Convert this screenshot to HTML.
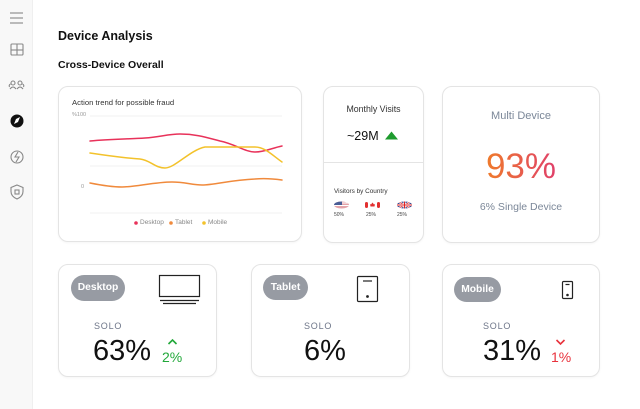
<!DOCTYPE html>
<html><head><meta charset="utf-8"><style>
*{margin:0;padding:0;box-sizing:border-box}
body{width:640px;height:409px;background:#fff;font-family:"Liberation Sans",sans-serif;position:relative;overflow:hidden;color:#111}
.a{position:absolute;white-space:nowrap;line-height:1}
.side{position:absolute;left:0;top:0;width:33px;height:409px;background:#f8f8f8;border-right:1px solid #efefef}
.card{position:absolute;border:1px solid #e4e4e4;border-radius:10px;background:#fff;box-shadow:0 1px 2px rgba(0,0,0,0.04)}
.pill{position:absolute;background:#979ba3;color:#fff;font-weight:bold;border-radius:13px;text-align:center;font-size:10.3px}
.solo{font-size:9px;color:#6e7689;letter-spacing:0.8px}
.big{font-size:29px;color:#111}
</style></head><body>
<div class="side"></div>
<svg class="a" style="left:0;top:0" width="33" height="210" viewBox="0 0 33 210">
 <g stroke="#888" stroke-width="1.1" fill="none">
  <line x1="10" y1="13" x2="23" y2="13"/><line x1="10" y1="18" x2="23" y2="18"/><line x1="10" y1="23" x2="23" y2="23"/>
  <rect x="11" y="44" width="12" height="11" rx="1"/><line x1="17" y1="44" x2="17" y2="55"/><line x1="11" y1="50" x2="23" y2="50"/>
  <circle cx="13" cy="83" r="2"/><circle cx="20" cy="83" r="2"/><path d="M10 89 q3 -4 6 0 M17 89 q3 -4 6 0"/><path d="M9.5 87 q-1 -2 1 -3 M23.5 87 q1 -2 -1 -3"/>
  <circle cx="17" cy="157" r="6"/><path d="M18 152 l-3 5 h4 l-3 5"/>
  <path d="M17 185 l6 2.5 v4 q0 5 -6 7.5 q-6 -2.5 -6 -7.5 v-4 z"/><rect x="15" y="190" width="4" height="4"/>
 </g>
 <circle cx="17" cy="121" r="6.5" fill="#111"/><path d="M14 124 l2 -5 l4 -2 l-2 5 z" fill="#fff"/>
</svg>

<div class="a" style="left:58px;top:29.5px;font-size:12.5px;font-weight:bold;color:#111">Device Analysis</div>
<div class="a" style="left:58px;top:59.5px;font-size:10.5px;font-weight:bold;color:#111">Cross-Device Overall</div>

<!-- chart card -->
<div class="card" style="left:58px;top:86px;width:244px;height:156px"></div>
<div class="a" style="left:72px;top:98.8px;font-size:7.7px;color:#333">Action trend for possible fraud</div>
<div class="a" style="left:72px;top:113.4px;font-size:5.5px;color:#999">%100</div>
<div class="a" style="left:81px;top:185.4px;font-size:5.5px;color:#999">0</div>
<svg class="a" style="left:0;top:0" width="320" height="250" viewBox="0 0 320 250">
 <g stroke="#f1f1f1" stroke-width="1"><line x1="90" y1="116" x2="282" y2="116"/><line x1="90" y1="166" x2="282" y2="166"/><line x1="90" y1="213" x2="282" y2="213"/></g>
 <g fill="none" stroke-width="1.5" stroke-linecap="round">
  <path stroke="#e8325a" d="M90,141 C110,139 130,139 145,138 C160,137 168,134 180,134 C195,134 205,137 220,141 C235,144 245,152 255,152 C265,152 272,148 282,146"/>
  <path stroke="#f3c22b" d="M90,153 C110,156 125,158 140,159 C150,160 155,168 165,168 C175,168 190,150 205,147 L255,147 C265,147 272,155 282,162"/>
  <path stroke="#f08a3c" d="M90,183 C105,186 115,187 122,187 C135,187 155,182 172,182 C185,182 192,185 202,185 C215,185 230,180 255,179 C265,178 275,179 282,180"/>
 </g>
 <circle cx="136" cy="223" r="1.8" fill="#e8325a"/><circle cx="171" cy="223" r="1.8" fill="#f08a3c"/><circle cx="204" cy="223" r="1.8" fill="#f3c22b"/>
</svg>
<div class="a" style="left:140px;top:219.9px;font-size:6.5px;color:#888">Desktop</div>
<div class="a" style="left:175px;top:219.9px;font-size:6.5px;color:#888">Tablet</div>
<div class="a" style="left:208px;top:219.9px;font-size:6.5px;color:#888">Mobile</div>

<!-- monthly visits -->
<div class="card" style="left:323px;top:86px;width:101px;height:157px"></div>
<div class="a" style="left:323px;width:101px;text-align:center;top:104.8px;font-size:8.8px;color:#333">Monthly Visits</div>
<div class="a" style="left:347px;top:130px;font-size:12.5px;color:#111">~29M</div>
<svg class="a" style="left:384px;top:131px" width="15" height="9"><polygon points="1,8.5 7.5,0.5 14,8.5" fill="#1e9b2e"/></svg>
<div class="a" style="left:324px;top:162px;width:99px;height:1px;background:#e4e4e4"></div>
<div class="a" style="left:334px;top:189px;font-size:6.4px;color:#333">Visitors by Country</div>
<svg class="a" style="left:330px;top:199px" width="90" height="12">
 <defs><clipPath id="us"><ellipse cx="11.5" cy="6" rx="7.5" ry="3.5"/></clipPath><clipPath id="uk"><ellipse cx="74.5" cy="6" rx="7.5" ry="3.5"/></clipPath></defs>
 <g clip-path="url(#us)"><rect x="4" y="2" width="15" height="8" fill="#e4a3a8"/><rect x="4" y="3.5" width="15" height="1" fill="#fff"/><rect x="4" y="6" width="15" height="1" fill="#fff"/><rect x="4" y="2" width="8" height="4" fill="#4a5e96"/></g>
 <rect x="35" y="3" width="3" height="6" rx="1.5" fill="#e23030"/><rect x="47" y="3" width="3" height="6" rx="1.5" fill="#e23030"/><path d="M42.5 3.5 l1.5 2 l1 -0.5 l-0.5 2.5 h-4 l-0.5 -2.5 l1 0.5 z" fill="#e23030"/>
 <g clip-path="url(#uk)"><rect x="67" y="2" width="15" height="8" fill="#2d3f8a"/><path d="M67 2 L82 10 M82 2 L67 10" stroke="#fff" stroke-width="2"/><path d="M67 2 L82 10 M82 2 L67 10" stroke="#d22" stroke-width="0.7"/><rect x="67" y="5" width="15" height="2" fill="#fff"/><rect x="73.5" y="2" width="2" height="8" fill="#fff"/><rect x="67" y="5.5" width="15" height="1" fill="#d22"/><rect x="74" y="2" width="1" height="8" fill="#d22"/></g>
</svg>
<div class="a" style="left:334px;top:212.6px;font-size:5px;color:#444">50%</div>
<div class="a" style="left:366px;top:212.6px;font-size:5px;color:#444">25%</div>
<div class="a" style="left:397px;top:212.6px;font-size:5px;color:#444">25%</div>

<!-- multi device -->
<div class="card" style="left:442px;top:86px;width:158px;height:157px"></div>
<div class="a" style="left:442px;width:158px;text-align:center;top:110.7px;font-size:11px;color:#7b8798">Multi Device</div>
<div class="a" style="left:442px;width:158px;text-align:center;top:148.7px;font-size:35px"><span style="background:linear-gradient(90deg,#ef7b2b,#e0406a);-webkit-background-clip:text;background-clip:text;color:transparent">93%</span></div>
<div class="a" style="left:442px;width:158px;text-align:center;top:202px;font-size:10.5px;color:#7b8798">6% Single Device</div>

<!-- desktop -->
<div class="card" style="left:58px;top:264px;width:159px;height:113px"></div>
<div class="pill" style="left:71px;top:275px;width:54px;height:26px;line-height:26px">Desktop</div>
<svg class="a" style="left:157px;top:273px" width="46" height="34" fill="none" stroke="#222" stroke-width="1.2">
 <rect x="2.5" y="2.5" width="40" height="21"/><line x1="3" y1="27.5" x2="42" y2="27.5"/><line x1="6" y1="30.5" x2="39" y2="30.5"/>
</svg>
<div class="a solo" style="left:94px;top:321.7px">SOLO</div>
<div class="a big" style="left:93px;top:336.6px">63%</div>
<svg class="a" style="left:167px;top:338px" width="12" height="8"><polyline points="1.5,6 5.5,2 9.5,6" fill="none" stroke="#22a83a" stroke-width="1.6"/></svg>
<div class="a" style="left:162px;top:350.3px;font-size:14px;color:#22a83a">2%</div>

<!-- tablet -->
<div class="card" style="left:251px;top:264px;width:159px;height:113px"></div>
<div class="pill" style="left:263px;top:275px;width:45px;height:25px;line-height:25px">Tablet</div>
<svg class="a" style="left:355px;top:274px" width="26" height="30" fill="none" stroke="#222" stroke-width="1.2">
 <rect x="2.5" y="2.5" width="20" height="25" rx="1"/><line x1="8" y1="7" x2="17" y2="7"/><circle cx="12.5" cy="22.5" r="0.8" fill="#222"/>
</svg>
<div class="a solo" style="left:304px;top:321.7px">SOLO</div>
<div class="a big" style="left:304px;top:336.6px">6%</div>

<!-- mobile -->
<div class="card" style="left:442px;top:264px;width:158px;height:113px"></div>
<div class="pill" style="left:454px;top:277px;width:47px;height:25px;line-height:25px">Mobile</div>
<svg class="a" style="left:560px;top:279px" width="16" height="22" fill="none" stroke="#222" stroke-width="1.2">
 <rect x="2.5" y="2.5" width="10" height="17" rx="1"/><line x1="5.5" y1="5.5" x2="9.5" y2="5.5"/><circle cx="7.5" cy="16" r="0.7" fill="#222"/>
</svg>
<div class="a solo" style="left:483px;top:321.7px">SOLO</div>
<div class="a big" style="left:483px;top:336.6px">31%</div>
<svg class="a" style="left:555px;top:338px" width="12" height="8"><polyline points="1.5,2 5.5,6 9.5,2" fill="none" stroke="#e8323c" stroke-width="1.6"/></svg>
<div class="a" style="left:551px;top:350.3px;font-size:14px;color:#e8323c">1%</div>
</body></html>
